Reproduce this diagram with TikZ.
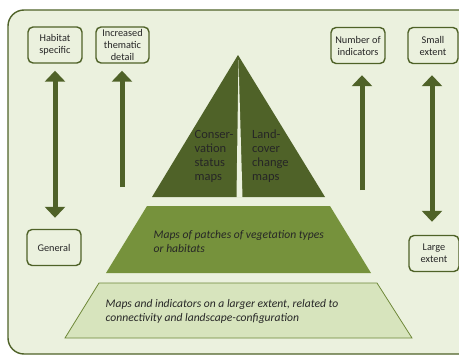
\documentclass[tikz,border=0pt]{standalone}
\usepackage{fontspec}
\setmainfont{Carlito}
\usetikzlibrary{arrows.meta}
\definecolor{bgc}{HTML}{EBF1DE}
\definecolor{dkol}{HTML}{4F6228}
\definecolor{mdol}{HTML}{76923C}
\definecolor{ltol}{HTML}{D7E4BD}
\tikzset{
  lbox/.style={draw=dkol, line width=1.4pt, fill=bgc, rounded corners=5pt,
    align=center, font=\fontsize{10.3}{12}\selectfont, text=black!85,
    minimum height=36pt, inner sep=2pt},
  bigarrow/.style={draw=dkol, line width=5pt, -{Triangle[width=20pt,length=11pt]}},
  dblarrow/.style={draw=dkol, line width=5pt, {Triangle[width=20pt,length=11pt]}-{Triangle[width=20pt,length=11pt]}},
  ptext/.style={align=left, inner sep=0pt, text=black!85, font=\fontsize{12.5}{14}\selectfont},
  itext/.style={align=left, inner sep=0pt, text=black!85, font=\fontsize{11.6}{14.5}\selectfont\itshape}
}
\begin{document}
\begin{tikzpicture}[x=1pt,y=-1pt]
\useasboundingbox (0,0) rectangle (459,356);
% background panel
\draw[dkol, line width=1.4pt, fill=bgc, rounded corners=16pt] (8,10) rectangle (475,354);
% pyramid
\fill[dkol] (238,55) -- (325,197) -- (152,197) -- cycle;
\fill[bgc] (238.5,60) -- (242.5,197.5) -- (236.5,197.5) -- cycle;
\fill[mdol] (147,206) -- (330,206) -- (371,273) -- (106,273) -- cycle;
\draw[mdol!80!dkol, line width=0.8pt, fill=ltol] (99,283) -- (377,283) -- (412,338) -- (65,338) -- cycle;
% pyramid texts
\node[ptext, anchor=north west] (cons) at (194.5,130) {Conser-\\vation\\status\\maps};
\node[ptext, anchor=north west] (land) at (252,130) {Land-\\cover\\change\\maps};
\node[itext, anchor=north west] (patch) at (153.5,230) {Maps of patches of vegetation types\\or habitats};
\node[itext, anchor=north west] (extent) at (105.5,299) {Maps and indicators on a larger extent, related to\\connectivity and landscape-configuration};
% label boxes
\node[lbox, minimum width=54pt] (hs) at (55,45) {Habitat\\specific};
\node[lbox, minimum width=53pt] (itd) at (122.5,45) {Increased\\thematic\\detail};
\node[lbox, minimum width=54pt] (noi) at (358,45.5) {Number of\\indicators};
\node[lbox, minimum width=50pt] (se) at (433,45.5) {Small\\extent};
\node[lbox, minimum width=54pt] (gen) at (54,247.5) {General};
\node[lbox, minimum width=50pt] (le) at (434,253.5) {Large\\extent};
% arrows
\coordinate (itdfoot) at (122,187);
\coordinate (noifoot) at (362,190);
\coordinate (sefoot) at (432,0);
\draw[dblarrow, shorten <=7pt, shorten >=11pt] (hs.south) -- (hs.south |- gen.north);
\draw[bigarrow, shorten >=7pt] (itdfoot) -- (itdfoot |- itd.south);
\draw[bigarrow, shorten >=11pt] (noifoot) -- (noifoot |- noi.south);
\draw[dblarrow, shorten <=11pt, shorten >=13pt] (sefoot |- se.south) -- (sefoot |- le.north);
\end{tikzpicture}
\end{document}
